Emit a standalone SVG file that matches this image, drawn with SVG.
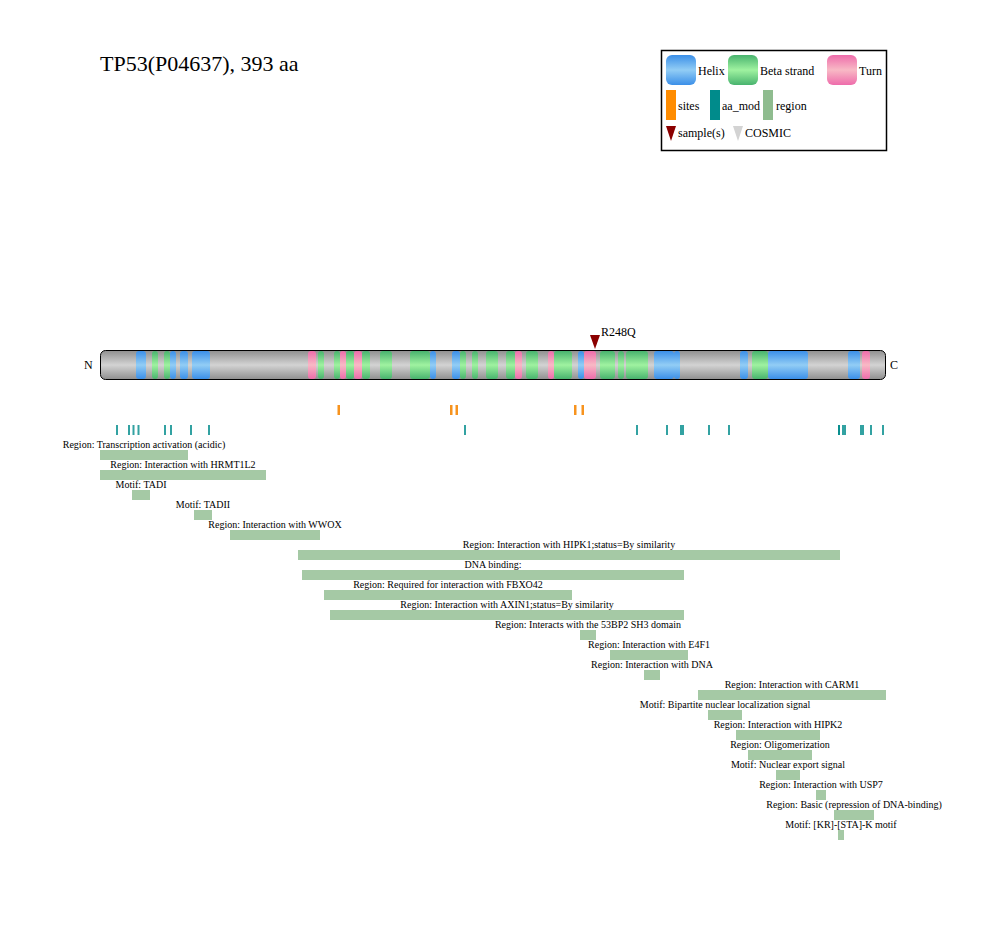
<svg xmlns="http://www.w3.org/2000/svg" width="986" height="940" viewBox="0 0 986 940">
<defs>
<linearGradient id="gGray" x1="0" y1="0" x2="0" y2="1"><stop offset="0" stop-color="#8f8f8f"/><stop offset="0.5" stop-color="#d3d3d3"/><stop offset="1" stop-color="#8f8f8f"/></linearGradient>
<linearGradient id="gHelix" x1="0" y1="0" x2="0" y2="1"><stop offset="0" stop-color="#3b8fe8"/><stop offset="0.5" stop-color="#92cdf5"/><stop offset="1" stop-color="#3b8fe8"/></linearGradient>
<linearGradient id="gBeta" x1="0" y1="0" x2="0" y2="1"><stop offset="0" stop-color="#48b36e"/><stop offset="0.5" stop-color="#9ff2a0"/><stop offset="1" stop-color="#48b36e"/></linearGradient>
<linearGradient id="gTurn" x1="0" y1="0" x2="0" y2="1"><stop offset="0" stop-color="#ee6cab"/><stop offset="0.5" stop-color="#f8b9c5"/><stop offset="1" stop-color="#ee6cab"/></linearGradient>
</defs>
<style>
text{font-family:"Liberation Serif","Times New Roman",serif;fill:#000}
.t10{font-size:10px}
.t12{font-size:12px}
.h{fill:url(#gHelix)}
.b{fill:url(#gBeta)}
.u{fill:url(#gTurn)}
.site{fill:#f7931e}
.mod{fill:#008b8b;opacity:0.8}
.reg{fill:#8fbc8f;opacity:0.8}
</style>
<rect width="986" height="940" fill="#fff"/>
<g id="title"><text x="100" y="71" style="font-size:22px">TP53(P04637), 393 aa</text></g>

<g id="legend">
<rect x="661.5" y="50.5" width="225" height="100" fill="#fff" stroke="#000" stroke-width="1.5"/>
<rect x="666" y="55" width="30" height="30" rx="6" class="h"/>
<text x="698" y="75" class="t12">Helix</text>
<rect x="728" y="55" width="30" height="30" rx="6" class="b"/>
<text x="760" y="75" class="t12">Beta strand</text>
<rect x="827" y="55" width="30" height="30" rx="6" class="u"/>
<text x="859" y="75" class="t12">Turn</text>
<rect x="666" y="90" width="10" height="30" fill="#ff8c00"/>
<text x="678" y="110" class="t12">sites</text>
<rect x="710" y="90" width="10" height="30" fill="#008b8b"/>
<text x="722" y="110" class="t12">aa_mod</text>
<rect x="763" y="90" width="10" height="30" fill="#8fbc8f"/>
<text x="776" y="110" class="t12">region</text>
<path d="M666 126 L676 126 L671 141 Z" fill="#8b0000"/>
<text x="678" y="137" class="t12">sample(s)</text>
<path d="M733 126 L743 126 L738 141 Z" fill="#d3d3d3"/>
<text x="745" y="137" class="t12">COSMIC</text>
</g>

<g id="protein">
<text x="84" y="369" class="t12">N</text>
<text x="890" y="369" class="t12">C</text>
<rect x="100.5" y="350.5" width="785" height="29" rx="5" fill="url(#gGray)" stroke="#000" stroke-width="1"/>
<g id="beta">
<rect x="152" y="351" width="6" height="28" rx="3" class="b"/>
<rect x="164" y="351" width="6" height="28" rx="3" class="b"/>
<rect x="318" y="351" width="6" height="28" rx="3" class="b"/>
<rect x="334" y="351" width="6" height="28" rx="3" class="b"/>
<rect x="346" y="351" width="8" height="28" rx="3" class="b"/>
<rect x="362" y="351" width="8" height="28" rx="3" class="b"/>
<rect x="380" y="351" width="12" height="28" rx="3" class="b"/>
<rect x="410" y="351" width="20" height="28" rx="3" class="b"/>
<rect x="460" y="351" width="6" height="28" rx="3" class="b"/>
<rect x="472" y="351" width="6" height="28" rx="3" class="b"/>
<rect x="486" y="351" width="12" height="28" rx="3" class="b"/>
<rect x="506" y="351" width="9" height="28" rx="3" class="b"/>
<rect x="526" y="351" width="12" height="28" rx="3" class="b"/>
<rect x="554" y="351" width="18" height="28" rx="3" class="b"/>
<rect x="600" y="351" width="15" height="28" rx="3" class="b"/>
<rect x="618" y="351" width="6" height="28" rx="3" class="b"/>
<rect x="626" y="351" width="22" height="28" rx="3" class="b"/>
<rect x="752" y="351" width="16" height="28" rx="3" class="b"/>
</g>
<g id="helix">
<rect x="136" y="351" width="10" height="28" rx="3" class="h"/>
<rect x="170" y="351" width="6" height="28" rx="3" class="h"/>
<rect x="180" y="351" width="8" height="28" rx="3" class="h"/>
<rect x="192" y="351" width="18" height="28" rx="3" class="h"/>
<rect x="430" y="351" width="6" height="28" rx="3" class="h"/>
<rect x="452" y="351" width="8" height="28" rx="3" class="h"/>
<rect x="578" y="351" width="6" height="28" rx="3" class="h"/>
<rect x="654" y="351" width="20" height="28" rx="3" class="h"/>
<rect x="674" y="351" width="6" height="28" rx="3" class="h"/>
<rect x="740" y="351" width="8" height="28" rx="3" class="h"/>
<rect x="768" y="351" width="40" height="28" rx="3" class="h"/>
<rect x="848" y="351" width="12" height="28" rx="3" class="h"/>
</g>
<g id="turn">
<rect x="308" y="351" width="8" height="28" rx="3" class="u"/>
<rect x="340" y="351" width="6" height="28" rx="3" class="u"/>
<rect x="354" y="351" width="8" height="28" rx="3" class="u"/>
<rect x="515" y="351" width="7" height="28" rx="3" class="u"/>
<rect x="548" y="351" width="6" height="28" rx="3" class="u"/>
<rect x="584" y="351" width="12" height="28" rx="3" class="u"/>
<rect x="862" y="351" width="8" height="28" rx="3" class="u"/>
</g>
</g>

<g id="mutation">
<path d="M590 335 L600 335 L595 349 Z" fill="#8b0000"/>
<text x="601" y="336" class="t12">R248Q</text>
</g>

<g id="sites">
<rect x="337.5" y="405" width="2.5" height="10" class="site"/>
<rect x="450" y="405" width="2.5" height="10" class="site"/>
<rect x="455.5" y="405" width="2.5" height="10" class="site"/>
<rect x="574" y="405" width="2.5" height="10" class="site"/>
<rect x="581.5" y="405" width="2.5" height="10" class="site"/>
</g>

<g id="aa_mod">
<rect x="116" y="425" width="2" height="10" class="mod"/>
<rect x="128" y="425" width="2" height="10" class="mod"/>
<rect x="132.5" y="425" width="2" height="10" class="mod"/>
<rect x="137.5" y="425" width="2" height="10" class="mod"/>
<rect x="164" y="425" width="2" height="10" class="mod"/>
<rect x="170" y="425" width="2" height="10" class="mod"/>
<rect x="190" y="425" width="2" height="10" class="mod"/>
<rect x="208" y="425" width="2" height="10" class="mod"/>
<rect x="464" y="425" width="2" height="10" class="mod"/>
<rect x="636" y="425" width="2" height="10" class="mod"/>
<rect x="666" y="425" width="2" height="10" class="mod"/>
<rect x="680" y="425" width="2" height="10" class="mod"/>
<rect x="682" y="425" width="2" height="10" class="mod"/>
<rect x="708" y="425" width="2" height="10" class="mod"/>
<rect x="728" y="425" width="2" height="10" class="mod"/>
<rect x="838" y="425" width="2" height="10" class="mod"/>
<rect x="838" y="425" width="2" height="10" class="mod"/>
<rect x="842" y="425" width="2" height="10" class="mod"/>
<rect x="844" y="425" width="2" height="10" class="mod"/>
<rect x="860" y="425" width="2" height="10" class="mod"/>
<rect x="862" y="425" width="2" height="10" class="mod"/>
<rect x="870" y="425" width="2" height="10" class="mod"/>
<rect x="882" y="425" width="2" height="10" class="mod"/>
</g>

<g id="regions" text-anchor="middle">
<g id="r1"><text x="144" y="447.5" class="t10">Region: Transcription activation (acidic)</text><rect x="100" y="450" width="88" height="10" class="reg"/></g>
<g id="r2"><text x="183" y="467.5" class="t10">Region: Interaction with HRMT1L2</text><rect x="100" y="470" width="166" height="10" class="reg"/></g>
<g id="r3"><text x="141" y="487.5" class="t10">Motif: TADI</text><rect x="132" y="490" width="18" height="10" class="reg"/></g>
<g id="r4"><text x="203" y="507.5" class="t10">Motif: TADII</text><rect x="194" y="510" width="18" height="10" class="reg"/></g>
<g id="r5"><text x="275" y="527.5" class="t10">Region: Interaction with WWOX</text><rect x="230" y="530" width="90" height="10" class="reg"/></g>
<g id="r6"><text x="569" y="547.5" class="t10">Region: Interaction with HIPK1;status=By similarity</text><rect x="298" y="550" width="542" height="10" class="reg"/></g>
<g id="r7"><text x="493" y="567.5" class="t10">DNA binding:</text><rect x="302" y="570" width="382" height="10" class="reg"/></g>
<g id="r8"><text x="448" y="587.5" class="t10">Region: Required for interaction with FBXO42</text><rect x="324" y="590" width="248" height="10" class="reg"/></g>
<g id="r9"><text x="507" y="607.5" class="t10">Region: Interaction with AXIN1;status=By similarity</text><rect x="330" y="610" width="354" height="10" class="reg"/></g>
<g id="r10"><text x="588" y="627.5" class="t10">Region: Interacts with the 53BP2 SH3 domain</text><rect x="580" y="630" width="16" height="10" class="reg"/></g>
<g id="r11"><text x="649" y="647.5" class="t10">Region: Interaction with E4F1</text><rect x="610" y="650" width="78" height="10" class="reg"/></g>
<g id="r12"><text x="652" y="667.5" class="t10">Region: Interaction with DNA</text><rect x="644" y="670" width="16" height="10" class="reg"/></g>
<g id="r13"><text x="792" y="687.5" class="t10">Region: Interaction with CARM1</text><rect x="698" y="690" width="188" height="10" class="reg"/></g>
<g id="r14"><text x="725" y="707.5" class="t10">Motif: Bipartite nuclear localization signal</text><rect x="708" y="710" width="34" height="10" class="reg"/></g>
<g id="r15"><text x="778" y="727.5" class="t10">Region: Interaction with HIPK2</text><rect x="736" y="730" width="84" height="10" class="reg"/></g>
<g id="r16"><text x="780" y="747.5" class="t10">Region: Oligomerization</text><rect x="748" y="750" width="64" height="10" class="reg"/></g>
<g id="r17"><text x="788" y="767.5" class="t10">Motif: Nuclear export signal</text><rect x="776" y="770" width="24" height="10" class="reg"/></g>
<g id="r18"><text x="821" y="787.5" class="t10">Region: Interaction with USP7</text><rect x="816" y="790" width="10" height="10" class="reg"/></g>
<g id="r19"><text x="854" y="807.5" class="t10">Region: Basic (repression of DNA-binding)</text><rect x="834" y="810" width="40" height="10" class="reg"/></g>
<g id="r20"><text x="841" y="827.5" class="t10">Motif: [KR]-[STA]-K motif</text><rect x="838" y="830" width="6" height="10" class="reg"/></g>
</g>
</svg>
